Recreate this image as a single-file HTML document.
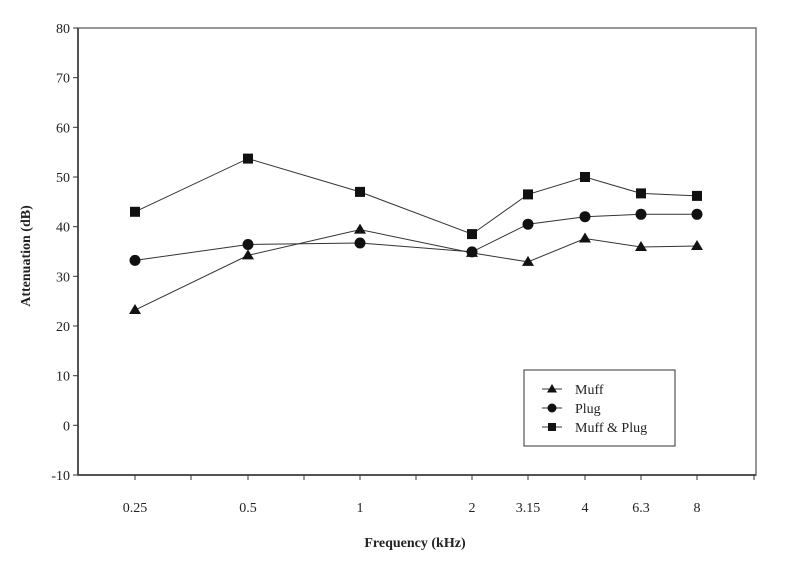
<!DOCTYPE html>
<html><head><style>body{margin:0;background:#fff}</style></head><body>
<svg width="787" height="561" xmlns="http://www.w3.org/2000/svg" font-family="Liberation Serif, serif" fill="#222">
<rect x="78" y="28" width="678" height="447" fill="none" stroke="#777" stroke-width="1.5"/>
<line x1="78" y1="28" x2="78" y2="475" stroke="#333" stroke-width="1.5"/>
<line x1="78" y1="475" x2="756" y2="475" stroke="#333" stroke-width="1.5"/>
<g stroke="#333" stroke-width="1">
<line x1="73" y1="28" x2="78" y2="28"/><line x1="73" y1="77.7" x2="78" y2="77.7"/><line x1="73" y1="127.3" x2="78" y2="127.3"/><line x1="73" y1="177" x2="78" y2="177"/><line x1="73" y1="226.7" x2="78" y2="226.7"/><line x1="73" y1="276.3" x2="78" y2="276.3"/><line x1="73" y1="326" x2="78" y2="326"/><line x1="73" y1="375.7" x2="78" y2="375.7"/><line x1="73" y1="425.3" x2="78" y2="425.3"/><line x1="73" y1="475" x2="78" y2="475"/>
<line x1="135" y1="475" x2="135" y2="480"/><line x1="191" y1="475" x2="191" y2="480"/><line x1="248" y1="475" x2="248" y2="480"/><line x1="304" y1="475" x2="304" y2="480"/><line x1="360" y1="475" x2="360" y2="480"/><line x1="416" y1="475" x2="416" y2="480"/><line x1="472" y1="475" x2="472" y2="480"/><line x1="528" y1="475" x2="528" y2="480"/><line x1="585" y1="475" x2="585" y2="480"/><line x1="641" y1="475" x2="641" y2="480"/><line x1="697" y1="475" x2="697" y2="480"/><line x1="754" y1="475" x2="754" y2="480"/>
</g>
<g font-size="14" text-anchor="end">
<text x="70" y="33">80</text><text x="70" y="82.7">70</text><text x="70" y="132.3">60</text><text x="70" y="182">50</text><text x="70" y="231.7">40</text><text x="70" y="281.3">30</text><text x="70" y="331">20</text><text x="70" y="380.7">10</text><text x="70" y="430.3">0</text><text x="70" y="480">-10</text>
</g>
<g font-size="14" text-anchor="middle">
<text x="135" y="512">0.25</text><text x="248" y="512">0.5</text><text x="360" y="512">1</text><text x="472" y="512">2</text><text x="528" y="512">3.15</text><text x="585" y="512">4</text><text x="641" y="512">6.3</text><text x="697" y="512">8</text>
</g>
<text x="415" y="547" font-size="14" font-weight="bold" text-anchor="middle">Frequency (kHz)</text>
<text transform="translate(30,256) rotate(-90)" font-size="14" font-weight="bold" text-anchor="middle">Attenuation (dB)</text>
<g stroke="#333" stroke-width="1" fill="none">
<polyline points="135,310.1 248,255.4 360,229.6 472,252.9 528,261.9 585,238.5 641,247 697,246"/>
<polyline points="135,260.4 248,244.5 360,243 472,251.9 528,224.2 585,216.7 641,214.3 697,214.3"/>
<polyline points="135,211.8 248,158.6 360,191.9 472,234.1 528,194.4 585,177 641,193.4 697,195.9"/>
</g>
<g fill="#111">
<path d="M135,304 l6,10 h-12z"/><path d="M248,249.4 l6,10 h-12z"/><path d="M360,223.6 l6,10 h-12z"/><path d="M472,246.9 l6,10 h-12z"/><path d="M528,255.9 l6,10 h-12z"/><path d="M585,232.5 l6,10 h-12z"/><path d="M641,241 l6,10 h-12z"/><path d="M697,240 l6,10 h-12z"/>
<circle cx="135" cy="260.4" r="5.5"/><circle cx="248" cy="244.5" r="5.5"/><circle cx="360" cy="243" r="5.5"/><circle cx="472" cy="251.9" r="5.5"/><circle cx="528" cy="224.2" r="5.5"/><circle cx="585" cy="216.7" r="5.5"/><circle cx="641" cy="214.3" r="5.5"/><circle cx="697" cy="214.3" r="5.5"/>
<rect x="130" y="206.8" width="10" height="10"/><rect x="243" y="153.6" width="10" height="10"/><rect x="355" y="186.9" width="10" height="10"/><rect x="467" y="229.1" width="10" height="10"/><rect x="523" y="189.4" width="10" height="10"/><rect x="580" y="172" width="10" height="10"/><rect x="636" y="188.4" width="10" height="10"/><rect x="692" y="190.9" width="10" height="10"/>
</g>
<rect x="524" y="370" width="151" height="76" fill="#fff" stroke="#333" stroke-width="1"/>
<g stroke="#333"><line x1="542" y1="389" x2="562" y2="389"/><line x1="542" y1="408" x2="562" y2="408"/><line x1="542" y1="427" x2="562" y2="427"/></g>
<path d="M552,384 l5,8.5 h-10z" fill="#111"/><circle cx="552" cy="408" r="4.5" fill="#111"/><rect x="548" y="423" width="8" height="8" fill="#111"/>
<g font-size="14"><text x="575" y="394">Muff</text><text x="575" y="413">Plug</text><text x="575" y="432">Muff &amp; Plug</text></g>
</svg>
</body></html>
